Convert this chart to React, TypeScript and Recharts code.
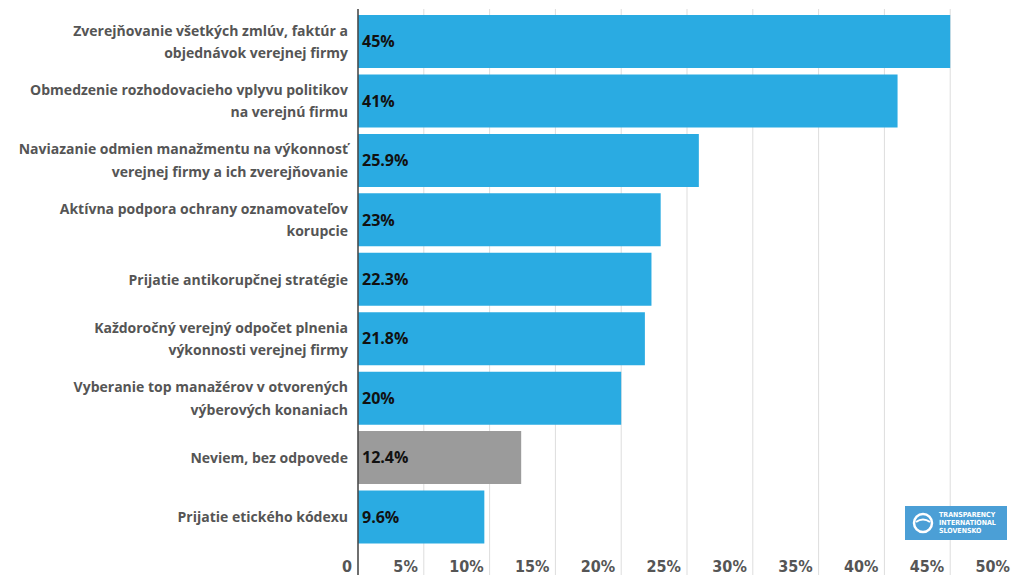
import React from 'react'
import { BarChart, Bar, XAxis, YAxis, CartesianGrid, Cell, LabelList } from 'recharts'

const categories = [
  'Zverejňovanie všetkých zmlúv, faktúr a|objednávok verejnej firmy',
  'Obmedzenie rozhodovacieho vplyvu politikov|na verejnú firmu',
  'Naviazanie odmien manažmentu na výkonnosť|verejnej firmy a ich zverejňovanie',
  'Aktívna podpora ochrany oznamovateľov|korupcie',
  'Prijatie antikorupčnej stratégie',
  'Každoročný verejný odpočet plnenia|výkonnosti verejnej firmy',
  'Vyberanie top manažérov v otvorených|výberových konaniach',
  'Neviem, bez odpovede',
  'Prijatie etického kódexu',
]
const values = [45, 41, 25.9, 23, 22.3, 21.8, 20, 12.4, 9.6]
const valueLabels = ['45%', '41%', '25.9%', '23%', '22.3%', '21.8%', '20%', '12.4%', '9.6%']
const xTicks = [0, 5, 10, 15, 20, 25, 30, 35, 40, 45, 50]
const greyCategory = 'Neviem, bez odpovede'

const BLUE = '#2aabe2'
const GREY = '#9b9b9b'

const data = categories.map((c, i) => ({ name: c, value: values[i], label: valueLabels[i] }))

function CategoryTick(props: any) {
  const { x, y, payload } = props
  const lines = String(payload.value).split('|')
  const lh = 22.5
  const start = -((lines.length - 1) * lh) / 2
  return (
    <text x={x} y={y} textAnchor="end" fill="#555" fontFamily="'Open Sans', sans-serif" fontWeight={700} fontSize={14}>
      {lines.map((l, i) => (
        <tspan key={i} x={x} y={y + start + i * lh} dy="0.36em">{l}</tspan>
      ))}
    </text>
  )
}

function ValueTick(props: any) {
  const { x, y, payload } = props
  const v = payload.value
  return (
    <text x={x - 6} y={y} dy={-3} textAnchor="end" fill="#555"
      fontFamily="'Liberation Sans Narrow', 'DejaVu Sans Condensed', sans-serif" fontWeight={700} fontSize={16}
      style={{ fontStretch: 'condensed' }}>
      {v === 0 ? '0' : v + '%'}
    </text>
  )
}

function BarValue(props: any) {
  const { x, y, height, value } = props
  return (
    <text x={x + 4} y={y + height / 2} dy="0.36em" fill="#111" fontFamily="'Open Sans', sans-serif" fontWeight={700} fontSize={16}>
      {value}
    </text>
  )
}

export default function App() {
  return (
    <div style={{ position: 'absolute', left: 0, top: 0, width: 1013, height: 575, overflow: 'hidden', background: '#fff' }}>
      <BarChart width={1030} height={595} data={data} layout="vertical"
        margin={{ top: 9, right: 14, bottom: 0, left: 0 }} barSize={53}>
        <CartesianGrid horizontal={false} stroke="#dddddd" />
        <XAxis type="number" domain={[0, 50]} ticks={xTicks} height={20} axisLine={false} tickLine={false}
          tickSize={0} tickMargin={0} tick={<ValueTick />} interval={0} />
        <YAxis type="category" dataKey="name" width={358} padding={{ top: 3, bottom: 28 }}
          axisLine={{ stroke: '#444', strokeWidth: 1.5 }} tickLine={false} tickSize={0} tickMargin={10}
          tick={<CategoryTick />} interval={0} />
        <Bar dataKey="value" isAnimationActive={false}>
          {data.map((d, i) => (
            <Cell key={i} fill={d.name === greyCategory ? GREY : BLUE} />
          ))}
          <LabelList dataKey="label" content={<BarValue />} />
        </Bar>
      </BarChart>
      <div style={{ position: 'absolute', left: 905, top: 506, width: 102, height: 34, background: '#4b9fd6', display: 'flex', alignItems: 'center' }}>
        <svg width={24} height={24} style={{ marginLeft: 6 }}>
          <circle cx={12} cy={12} r={9} fill="none" stroke="#fff" strokeWidth={2.5} />
          <path d="M5 11 Q12 6 19 11" stroke="#fff" strokeWidth={2} fill="none" />
        </svg>
        <div style={{ marginLeft: 4, color: '#fff', fontFamily: "'DejaVu Sans Condensed', sans-serif", fontWeight: 700, fontSize: 7, lineHeight: '8px' }}>
          <div>TRANSPARENCY</div>
          <div>INTERNATIONAL</div>
          <div>SLOVENSKO</div>
        </div>
      </div>
    </div>
  )
}
